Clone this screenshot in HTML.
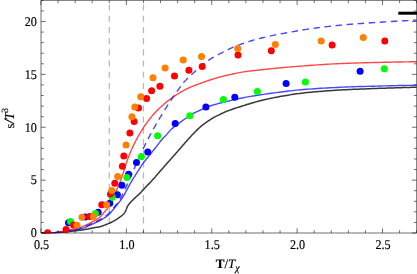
<!DOCTYPE html><html><head><meta charset="utf-8"><style>html,body{margin:0;padding:0;background:#fff;width:417px;height:274px;overflow:hidden}</style></head><body><svg width="417" height="274" viewBox="0 0 417 274" style="position:absolute;left:0;top:0">
<defs><clipPath id="c"><rect x="41" y="0" width="376" height="233.5"/></clipPath></defs>
<rect width="417" height="274" fill="#fff"/>
<line x1="109.30" y1="4.5" x2="109.30" y2="233" stroke="#b8b8b8" stroke-width="1.25" stroke-dasharray="6.1 5.1"/>
<line x1="143.45" y1="4.5" x2="143.45" y2="233" stroke="#b8b8b8" stroke-width="1.25" stroke-dasharray="6.1 5.1"/>
<g clip-path="url(#c)" fill="none" stroke-linejoin="round">
<path d="M41.00 232.90 L42.32 232.88 L43.66 232.86 L45.01 232.85 L46.36 232.83 L47.71 232.82 L49.06 232.81 L50.40 232.79 L51.73 232.77 L53.03 232.74 L54.32 232.70 L55.57 232.66 L56.80 232.60 L57.99 232.53 L59.16 232.46 L60.30 232.37 L61.42 232.28 L62.52 232.18 L63.61 232.07 L64.69 231.97 L65.76 231.86 L66.82 231.74 L67.88 231.63 L68.94 231.51 L70.00 231.40 L71.06 231.29 L72.11 231.18 L73.16 231.06 L74.19 230.95 L75.22 230.84 L76.25 230.72 L77.27 230.60 L78.30 230.47 L79.32 230.34 L80.34 230.20 L81.37 230.05 L82.40 229.90 L83.46 229.73 L84.55 229.55 L85.67 229.35 L86.80 229.14 L87.93 228.93 L89.05 228.71 L90.14 228.50 L91.20 228.29 L92.21 228.10 L93.15 227.91 L94.02 227.75 L94.80 227.60 L95.48 227.48 L96.07 227.38 L96.58 227.31 L97.03 227.24 L97.43 227.19 L97.79 227.14 L98.13 227.10 L98.46 227.04 L98.80 226.98 L99.16 226.91 L99.55 226.82 L100.00 226.70 L100.48 226.56 L100.97 226.42 L101.48 226.26 L101.99 226.09 L102.51 225.91 L103.03 225.72 L103.56 225.53 L104.09 225.33 L104.62 225.12 L105.15 224.92 L105.68 224.71 L106.20 224.50 L106.72 224.29 L107.25 224.08 L107.77 223.87 L108.30 223.65 L108.82 223.43 L109.35 223.20 L109.88 222.97 L110.40 222.73 L110.93 222.48 L111.45 222.23 L111.98 221.97 L112.50 221.70 L113.02 221.42 L113.55 221.13 L114.09 220.82 L114.62 220.51 L115.15 220.20 L115.68 219.87 L116.21 219.55 L116.73 219.22 L117.24 218.89 L117.74 218.56 L118.23 218.23 L118.70 217.90 L119.17 217.57 L119.64 217.24 L120.10 216.91 L120.56 216.57 L121.01 216.23 L121.45 215.89 L121.88 215.56 L122.29 215.22 L122.67 214.88 L123.04 214.55 L123.39 214.22 L123.70 213.90 L123.98 213.58 L124.24 213.27 L124.46 212.95 L124.67 212.64 L124.85 212.34 L125.02 212.03 L125.17 211.73 L125.32 211.42 L125.46 211.12 L125.61 210.81 L125.75 210.51 L125.90 210.20 L126.05 209.89 L126.18 209.58 L126.30 209.27 L126.41 208.96 L126.52 208.65 L126.63 208.34 L126.74 208.03 L126.85 207.72 L126.97 207.41 L127.10 207.11 L127.24 206.80 L127.40 206.50 L127.57 206.21 L127.73 205.92 L127.90 205.65 L128.07 205.37 L128.24 205.10 L128.43 204.83 L128.63 204.55 L128.84 204.27 L129.08 203.98 L129.33 203.67 L129.60 203.34 L129.90 203.00 L130.23 202.63 L130.59 202.25 L130.97 201.85 L131.38 201.43 L131.81 201.00 L132.24 200.57 L132.69 200.13 L133.14 199.69 L133.59 199.26 L134.04 198.83 L134.48 198.41 L134.90 198.00 L135.32 197.60 L135.75 197.20 L136.19 196.80 L136.62 196.41 L137.06 196.01 L137.49 195.62 L137.92 195.24 L138.34 194.86 L138.76 194.48 L139.15 194.12 L139.54 193.75 L139.90 193.40 L140.22 193.08 L140.49 192.80 L140.73 192.55 L140.94 192.33 L141.14 192.10 L141.34 191.88 L141.56 191.62 L141.81 191.34 L142.10 191.01 L142.46 190.62 L142.89 190.15 L143.40 189.60 L144.01 188.95 L144.72 188.20 L145.50 187.38 L146.34 186.50 L147.23 185.57 L148.15 184.61 L149.08 183.63 L150.01 182.64 L150.92 181.68 L151.80 180.74 L152.63 179.84 L153.40 179.00 L154.12 178.20 L154.82 177.41 L155.51 176.62 L156.17 175.85 L156.82 175.09 L157.46 174.35 L158.07 173.62 L158.67 172.91 L159.25 172.23 L159.82 171.56 L160.37 170.92 L160.90 170.30 L161.41 169.71 L161.89 169.16 L162.35 168.64 L162.79 168.14 L163.21 167.66 L163.61 167.20 L164.01 166.75 L164.40 166.30 L164.80 165.86 L165.19 165.42 L165.59 164.96 L166.00 164.50 L166.40 164.05 L166.78 163.62 L167.15 163.21 L167.50 162.81 L167.86 162.41 L168.22 162.01 L168.59 161.60 L168.99 161.16 L169.41 160.68 L169.86 160.17 L170.36 159.61 L170.90 159.00 L171.50 158.32 L172.16 157.58 L172.86 156.78 L173.60 155.94 L174.36 155.08 L175.14 154.19 L175.94 153.29 L176.73 152.39 L177.51 151.50 L178.27 150.63 L179.00 149.80 L179.70 149.00 L180.37 148.24 L181.01 147.49 L181.64 146.76 L182.26 146.04 L182.87 145.34 L183.47 144.64 L184.07 143.94 L184.67 143.26 L185.27 142.57 L185.87 141.88 L186.48 141.19 L187.10 140.50 L187.73 139.80 L188.37 139.09 L189.02 138.38 L189.67 137.66 L190.32 136.95 L190.97 136.24 L191.62 135.54 L192.26 134.85 L192.89 134.18 L193.51 133.53 L194.12 132.90 L194.70 132.30 L195.27 131.72 L195.81 131.17 L196.35 130.64 L196.87 130.12 L197.38 129.62 L197.88 129.13 L198.38 128.66 L198.88 128.19 L199.38 127.74 L199.88 127.29 L200.38 126.84 L200.90 126.40 L201.42 125.96 L201.95 125.54 L202.47 125.12 L203.00 124.72 L203.52 124.32 L204.05 123.93 L204.58 123.55 L205.10 123.17 L205.63 122.80 L206.15 122.43 L206.68 122.06 L207.20 121.70 L207.72 121.34 L208.24 120.98 L208.76 120.63 L209.27 120.28 L209.79 119.94 L210.31 119.60 L210.82 119.27 L211.34 118.94 L211.85 118.62 L212.37 118.31 L212.88 118.00 L213.40 117.70 L213.91 117.41 L214.41 117.14 L214.91 116.88 L215.40 116.62 L215.89 116.37 L216.38 116.13 L216.88 115.89 L217.39 115.64 L217.92 115.40 L218.46 115.14 L219.02 114.88 L219.60 114.60 L220.18 114.32 L220.75 114.04 L221.31 113.75 L221.87 113.47 L222.45 113.18 L223.04 112.89 L223.68 112.59 L224.35 112.27 L225.08 111.95 L225.88 111.62 L226.75 111.27 L227.70 110.90 L228.75 110.51 L229.89 110.10 L231.11 109.68 L232.39 109.24 L233.73 108.78 L235.11 108.33 L236.52 107.86 L237.94 107.40 L239.38 106.93 L240.81 106.48 L242.22 106.03 L243.60 105.60 L244.96 105.18 L246.32 104.75 L247.68 104.33 L249.04 103.91 L250.41 103.49 L251.79 103.07 L253.18 102.66 L254.58 102.26 L256.00 101.86 L257.44 101.47 L258.91 101.08 L260.40 100.70 L261.92 100.33 L263.46 99.96 L265.03 99.60 L266.61 99.24 L268.21 98.89 L269.83 98.54 L271.46 98.20 L273.10 97.87 L274.75 97.54 L276.40 97.22 L278.05 96.91 L279.70 96.60 L281.36 96.30 L283.03 96.00 L284.71 95.71 L286.40 95.42 L288.10 95.14 L289.81 94.87 L291.51 94.60 L293.22 94.34 L294.92 94.09 L296.62 93.85 L298.32 93.62 L300.00 93.40 L301.68 93.19 L303.35 92.99 L305.02 92.80 L306.69 92.62 L308.35 92.45 L310.02 92.29 L311.68 92.13 L313.34 91.98 L315.01 91.83 L316.67 91.68 L318.33 91.54 L320.00 91.40 L321.67 91.26 L323.33 91.13 L325.00 91.00 L326.67 90.87 L328.33 90.75 L330.00 90.63 L331.67 90.52 L333.33 90.41 L335.00 90.30 L336.67 90.20 L338.33 90.10 L340.00 90.00 L341.66 89.91 L343.33 89.82 L344.99 89.74 L346.64 89.66 L348.30 89.58 L349.96 89.51 L351.62 89.44 L353.29 89.37 L354.96 89.31 L356.63 89.24 L358.31 89.17 L360.00 89.10 L361.70 89.03 L363.41 88.96 L365.14 88.89 L366.87 88.82 L368.60 88.75 L370.34 88.68 L372.07 88.61 L373.80 88.55 L375.52 88.48 L377.23 88.42 L378.92 88.36 L380.60 88.30 L382.27 88.24 L383.93 88.19 L385.60 88.13 L387.26 88.08 L388.91 88.03 L390.54 87.98 L392.17 87.93 L393.78 87.89 L395.37 87.84 L396.94 87.79 L398.48 87.75 L400.00 87.70 L401.49 87.65 L402.94 87.61 L404.36 87.57 L405.77 87.53 L407.15 87.48 L408.52 87.44 L409.88 87.40 L411.23 87.36 L412.59 87.32 L413.95 87.28 L415.32 87.24 L416.70 87.20" stroke="#1c1c1c" stroke-width="1.5" stroke-opacity="0.88"/>
<path d="M41.00 232.90 L42.25 232.87 L43.51 232.85 L44.77 232.84 L46.04 232.82 L47.30 232.81 L48.56 232.79 L49.82 232.77 L51.07 232.74 L52.32 232.71 L53.56 232.65 L54.79 232.59 L56.00 232.50 L57.21 232.40 L58.41 232.27 L59.61 232.14 L60.80 231.99 L61.99 231.83 L63.16 231.67 L64.33 231.50 L65.49 231.32 L66.64 231.14 L67.77 230.96 L68.89 230.78 L70.00 230.60 L71.09 230.43 L72.16 230.27 L73.21 230.12 L74.25 229.97 L75.28 229.82 L76.30 229.66 L77.31 229.49 L78.33 229.30 L79.34 229.10 L80.35 228.86 L81.37 228.60 L82.40 228.30 L83.46 227.95 L84.55 227.56 L85.67 227.12 L86.80 226.65 L87.93 226.16 L89.05 225.66 L90.14 225.15 L91.20 224.66 L92.21 224.19 L93.15 223.75 L94.02 223.35 L94.80 223.00 L95.49 222.70 L96.09 222.44 L96.62 222.21 L97.09 222.00 L97.51 221.81 L97.89 221.64 L98.25 221.48 L98.59 221.32 L98.92 221.16 L99.26 220.99 L99.61 220.80 L100.00 220.60 L100.40 220.38 L100.80 220.16 L101.19 219.93 L101.57 219.70 L101.95 219.47 L102.33 219.24 L102.70 219.00 L103.06 218.76 L103.43 218.52 L103.79 218.28 L104.14 218.04 L104.50 217.80 L104.85 217.56 L105.19 217.33 L105.52 217.11 L105.85 216.89 L106.18 216.67 L106.50 216.44 L106.82 216.20 L107.15 215.96 L107.48 215.70 L107.81 215.42 L108.15 215.12 L108.50 214.80 L108.86 214.45 L109.22 214.08 L109.60 213.70 L109.97 213.29 L110.35 212.87 L110.74 212.44 L111.12 212.00 L111.50 211.56 L111.88 211.11 L112.26 210.67 L112.63 210.23 L113.00 209.80 L113.36 209.37 L113.73 208.93 L114.09 208.49 L114.46 208.04 L114.82 207.59 L115.18 207.14 L115.53 206.70 L115.88 206.26 L116.22 205.83 L116.56 205.41 L116.88 205.00 L117.20 204.60 L117.51 204.22 L117.81 203.85 L118.10 203.50 L118.39 203.15 L118.67 202.81 L118.94 202.47 L119.21 202.15 L119.48 201.82 L119.74 201.49 L120.00 201.16 L120.25 200.83 L120.50 200.50 L120.75 200.16 L120.99 199.83 L121.22 199.50 L121.46 199.17 L121.68 198.84 L121.91 198.51 L122.13 198.18 L122.34 197.84 L122.56 197.51 L122.77 197.18 L122.99 196.84 L123.20 196.50 L123.41 196.17 L123.60 195.85 L123.79 195.54 L123.97 195.24 L124.15 194.93 L124.32 194.62 L124.51 194.29 L124.70 193.95 L124.90 193.59 L125.12 193.19 L125.35 192.77 L125.60 192.30 L125.87 191.79 L126.15 191.25 L126.44 190.68 L126.74 190.08 L127.05 189.46 L127.37 188.82 L127.71 188.16 L128.05 187.50 L128.40 186.82 L128.76 186.15 L129.12 185.47 L129.50 184.80 L129.89 184.13 L130.29 183.44 L130.71 182.74 L131.14 182.03 L131.57 181.32 L132.02 180.60 L132.46 179.88 L132.91 179.16 L133.37 178.43 L133.82 177.72 L134.26 177.00 L134.70 176.30 L135.14 175.59 L135.60 174.86 L136.07 174.12 L136.54 173.37 L137.01 172.62 L137.47 171.89 L137.93 171.16 L138.38 170.46 L138.81 169.79 L139.21 169.15 L139.60 168.55 L139.95 168.00 L140.27 167.50 L140.56 167.05 L140.82 166.64 L141.06 166.26 L141.29 165.91 L141.50 165.59 L141.71 165.27 L141.91 164.97 L142.12 164.67 L142.33 164.36 L142.56 164.04 L142.80 163.70 L143.03 163.38 L143.23 163.10 L143.42 162.86 L143.59 162.63 L143.76 162.40 L143.95 162.16 L144.17 161.89 L144.42 161.58 L144.71 161.21 L145.07 160.77 L145.49 160.24 L146.00 159.60 L146.61 158.84 L147.33 157.94 L148.13 156.94 L149.00 155.86 L149.91 154.71 L150.86 153.54 L151.81 152.35 L152.75 151.18 L153.66 150.04 L154.52 148.97 L155.30 147.98 L156.00 147.10 L156.62 146.31 L157.18 145.58 L157.70 144.91 L158.18 144.27 L158.63 143.67 L159.06 143.11 L159.46 142.56 L159.86 142.04 L160.26 141.53 L160.66 141.02 L161.07 140.51 L161.50 140.00 L161.94 139.49 L162.37 139.01 L162.80 138.54 L163.22 138.10 L163.64 137.66 L164.06 137.23 L164.47 136.81 L164.89 136.38 L165.31 135.95 L165.74 135.52 L166.17 135.07 L166.60 134.60 L167.03 134.12 L167.45 133.64 L167.87 133.15 L168.28 132.65 L168.69 132.15 L169.11 131.65 L169.54 131.14 L169.99 130.64 L170.45 130.13 L170.94 129.62 L171.45 129.11 L172.00 128.60 L172.57 128.10 L173.15 127.60 L173.75 127.11 L174.37 126.62 L175.00 126.13 L175.66 125.63 L176.33 125.13 L177.03 124.61 L177.76 124.09 L178.51 123.55 L179.29 122.98 L180.10 122.40 L180.96 121.78 L181.88 121.11 L182.84 120.42 L183.85 119.70 L184.88 118.96 L185.92 118.22 L186.96 117.49 L188.00 116.78 L189.01 116.10 L189.99 115.45 L190.92 114.84 L191.80 114.30 L192.62 113.81 L193.40 113.37 L194.14 112.97 L194.86 112.61 L195.55 112.27 L196.23 111.95 L196.90 111.65 L197.57 111.35 L198.25 111.05 L198.94 110.75 L199.66 110.43 L200.40 110.10 L201.14 109.76 L201.86 109.42 L202.56 109.08 L203.26 108.74 L203.96 108.41 L204.69 108.07 L205.44 107.74 L206.23 107.40 L207.07 107.06 L207.97 106.71 L208.94 106.36 L210.00 106.00 L211.15 105.63 L212.38 105.25 L213.69 104.86 L215.07 104.47 L216.49 104.07 L217.95 103.67 L219.44 103.28 L220.93 102.89 L222.43 102.50 L223.92 102.12 L225.38 101.75 L226.80 101.40 L228.20 101.06 L229.60 100.72 L231.00 100.39 L232.40 100.07 L233.80 99.75 L235.20 99.44 L236.60 99.14 L238.00 98.84 L239.40 98.55 L240.80 98.26 L242.20 97.98 L243.60 97.70 L244.99 97.43 L246.37 97.17 L247.74 96.91 L249.11 96.66 L250.47 96.42 L251.84 96.18 L253.22 95.95 L254.61 95.71 L256.02 95.49 L257.46 95.26 L258.91 95.03 L260.40 94.80 L261.91 94.57 L263.42 94.35 L264.94 94.13 L266.48 93.91 L268.03 93.70 L269.61 93.49 L271.21 93.28 L272.83 93.06 L274.49 92.85 L276.19 92.64 L277.92 92.42 L279.70 92.20 L281.49 91.98 L283.28 91.75 L285.07 91.52 L286.87 91.29 L288.71 91.06 L290.60 90.83 L292.54 90.59 L294.56 90.37 L296.66 90.14 L298.86 89.92 L301.17 89.71 L303.60 89.50 L306.17 89.30 L308.86 89.09 L311.67 88.89 L314.57 88.70 L317.56 88.50 L320.62 88.31 L323.74 88.13 L326.90 87.95 L330.09 87.77 L333.30 87.61 L336.51 87.45 L339.70 87.30 L342.92 87.16 L346.22 87.03 L349.56 86.90 L352.96 86.78 L356.38 86.67 L359.81 86.56 L363.25 86.46 L366.68 86.36 L370.08 86.27 L373.44 86.18 L376.75 86.09 L380.00 86.00 L383.18 85.92 L386.32 85.84 L389.43 85.76 L392.50 85.70 L395.55 85.63 L398.58 85.57 L401.59 85.51 L404.60 85.45 L407.61 85.39 L410.62 85.33 L413.65 85.27 L416.70 85.20" stroke="#0000ff" stroke-width="1.4" stroke-opacity="0.72"/>
<path d="M41.00 232.90 L42.25 232.87 L43.51 232.86 L44.77 232.85 L46.04 232.85 L47.30 232.84 L48.56 232.84 L49.82 232.82 L51.07 232.80 L52.32 232.75 L53.56 232.69 L54.79 232.61 L56.00 232.50 L57.21 232.36 L58.41 232.20 L59.61 232.02 L60.80 231.82 L61.99 231.61 L63.16 231.38 L64.33 231.14 L65.49 230.90 L66.64 230.65 L67.77 230.40 L68.89 230.15 L70.00 229.90 L71.09 229.66 L72.16 229.42 L73.21 229.19 L74.25 228.95 L75.28 228.71 L76.30 228.46 L77.31 228.20 L78.33 227.93 L79.34 227.63 L80.35 227.31 L81.37 226.97 L82.40 226.60 L83.46 226.19 L84.55 225.73 L85.67 225.23 L86.80 224.71 L87.93 224.17 L89.05 223.62 L90.14 223.07 L91.20 222.52 L92.21 221.99 L93.15 221.49 L94.02 221.02 L94.80 220.60 L95.49 220.22 L96.09 219.89 L96.61 219.58 L97.07 219.30 L97.49 219.04 L97.86 218.78 L98.21 218.53 L98.55 218.27 L98.88 217.99 L99.23 217.69 L99.60 217.37 L100.00 217.00 L100.43 216.59 L100.86 216.16 L101.29 215.69 L101.73 215.21 L102.16 214.71 L102.59 214.21 L103.02 213.70 L103.44 213.19 L103.85 212.69 L104.24 212.20 L104.63 211.74 L105.00 211.30 L105.35 210.89 L105.69 210.51 L106.01 210.16 L106.33 209.81 L106.63 209.48 L106.93 209.15 L107.22 208.81 L107.51 208.46 L107.80 208.09 L108.09 207.70 L108.39 207.27 L108.70 206.80 L109.01 206.29 L109.33 205.75 L109.65 205.19 L109.97 204.60 L110.29 203.99 L110.61 203.37 L110.93 202.73 L111.25 202.09 L111.57 201.44 L111.88 200.79 L112.19 200.14 L112.50 199.50 L112.80 198.85 L113.11 198.20 L113.41 197.53 L113.71 196.85 L114.00 196.17 L114.30 195.48 L114.59 194.80 L114.88 194.12 L115.17 193.45 L115.45 192.78 L115.73 192.13 L116.00 191.50 L116.27 190.88 L116.53 190.28 L116.79 189.68 L117.05 189.09 L117.30 188.51 L117.55 187.94 L117.80 187.37 L118.04 186.80 L118.28 186.23 L118.52 185.66 L118.76 185.08 L119.00 184.50 L119.23 183.92 L119.46 183.36 L119.69 182.80 L119.91 182.25 L120.13 181.70 L120.35 181.14 L120.57 180.58 L120.79 180.00 L121.01 179.41 L121.24 178.80 L121.47 178.16 L121.70 177.50 L121.94 176.80 L122.19 176.06 L122.45 175.28 L122.71 174.48 L122.97 173.67 L123.23 172.84 L123.49 172.02 L123.75 171.21 L124.00 170.41 L124.24 169.64 L124.48 168.90 L124.70 168.20 L124.91 167.54 L125.10 166.93 L125.29 166.33 L125.46 165.77 L125.63 165.22 L125.79 164.67 L125.96 164.14 L126.13 163.60 L126.31 163.05 L126.49 162.49 L126.69 161.91 L126.90 161.30 L127.13 160.67 L127.36 160.02 L127.60 159.36 L127.85 158.69 L128.10 158.01 L128.36 157.32 L128.63 156.63 L128.90 155.94 L129.17 155.25 L129.44 154.56 L129.72 153.88 L130.00 153.20 L130.28 152.53 L130.57 151.85 L130.87 151.16 L131.17 150.48 L131.47 149.79 L131.78 149.11 L132.09 148.44 L132.40 147.77 L132.70 147.11 L133.01 146.46 L133.31 145.82 L133.60 145.20 L133.89 144.60 L134.17 144.01 L134.45 143.44 L134.73 142.88 L135.00 142.33 L135.27 141.78 L135.55 141.24 L135.83 140.70 L136.11 140.16 L136.40 139.61 L136.70 139.06 L137.00 138.50 L137.31 137.93 L137.63 137.36 L137.95 136.78 L138.28 136.20 L138.61 135.62 L138.95 135.04 L139.29 134.46 L139.63 133.89 L139.97 133.31 L140.31 132.73 L140.66 132.17 L141.00 131.60 L141.33 131.05 L141.64 130.53 L141.94 130.03 L142.23 129.53 L142.52 129.04 L142.83 128.54 L143.14 128.03 L143.48 127.50 L143.85 126.94 L144.25 126.34 L144.70 125.70 L145.20 125.00 L145.75 124.24 L146.36 123.41 L147.00 122.54 L147.69 121.62 L148.40 120.67 L149.14 119.71 L149.89 118.74 L150.64 117.77 L151.40 116.82 L152.15 115.90 L152.89 115.03 L153.60 114.20 L154.30 113.42 L155.00 112.66 L155.70 111.92 L156.40 111.20 L157.10 110.49 L157.80 109.81 L158.50 109.13 L159.20 108.47 L159.90 107.82 L160.60 107.17 L161.30 106.53 L162.00 105.90 L162.70 105.27 L163.40 104.66 L164.10 104.05 L164.80 103.45 L165.50 102.86 L166.20 102.29 L166.90 101.72 L167.60 101.16 L168.30 100.61 L169.00 100.06 L169.70 99.53 L170.40 99.00 L171.09 98.48 L171.77 97.98 L172.44 97.49 L173.11 97.01 L173.77 96.54 L174.44 96.08 L175.12 95.62 L175.81 95.16 L176.52 94.70 L177.26 94.24 L178.01 93.77 L178.80 93.30 L179.59 92.83 L180.36 92.36 L181.13 91.90 L181.90 91.44 L182.69 90.98 L183.51 90.51 L184.37 90.04 L185.28 89.56 L186.26 89.07 L187.31 88.57 L188.45 88.04 L189.70 87.50 L191.07 86.93 L192.58 86.32 L194.20 85.68 L195.90 85.02 L197.67 84.35 L199.48 83.68 L201.31 83.01 L203.14 82.36 L204.95 81.72 L206.71 81.11 L208.40 80.53 L210.00 80.00 L211.52 79.51 L213.00 79.04 L214.45 78.60 L215.86 78.18 L217.25 77.78 L218.62 77.39 L219.98 77.02 L221.33 76.67 L222.68 76.32 L224.04 75.98 L225.41 75.64 L226.80 75.30 L228.20 74.97 L229.60 74.64 L231.00 74.33 L232.40 74.02 L233.80 73.72 L235.20 73.43 L236.60 73.15 L238.00 72.88 L239.40 72.62 L240.80 72.37 L242.20 72.13 L243.60 71.90 L244.99 71.68 L246.37 71.49 L247.74 71.30 L249.11 71.13 L250.47 70.97 L251.84 70.81 L253.22 70.66 L254.61 70.51 L256.02 70.37 L257.46 70.22 L258.91 70.06 L260.40 69.90 L261.91 69.73 L263.42 69.57 L264.94 69.40 L266.48 69.23 L268.03 69.07 L269.61 68.90 L271.21 68.73 L272.83 68.57 L274.49 68.40 L276.19 68.23 L277.92 68.07 L279.70 67.90 L281.49 67.73 L283.28 67.57 L285.07 67.41 L286.87 67.24 L288.71 67.08 L290.60 66.92 L292.54 66.75 L294.56 66.59 L296.66 66.42 L298.86 66.25 L301.17 66.08 L303.60 65.90 L306.17 65.72 L308.86 65.52 L311.67 65.32 L314.57 65.11 L317.56 64.91 L320.62 64.70 L323.74 64.50 L326.90 64.30 L330.09 64.10 L333.30 63.92 L336.51 63.75 L339.70 63.60 L342.92 63.46 L346.22 63.33 L349.56 63.21 L352.96 63.10 L356.38 63.00 L359.81 62.90 L363.25 62.81 L366.68 62.72 L370.08 62.64 L373.44 62.56 L376.75 62.48 L380.00 62.40 L383.18 62.32 L386.32 62.25 L389.43 62.19 L392.50 62.13 L395.55 62.07 L398.58 62.02 L401.59 61.97 L404.60 61.91 L407.61 61.86 L410.62 61.81 L413.65 61.76 L416.70 61.70" stroke="#ff0000" stroke-width="1.4" stroke-opacity="0.72"/>
<path d="M41.00 232.90 L42.25 232.87 L43.51 232.85 L44.77 232.84 L46.04 232.83 L47.30 232.82 L48.56 232.81 L49.82 232.79 L51.07 232.77 L52.32 232.73 L53.56 232.67 L54.79 232.60 L56.00 232.50 L57.21 232.38 L58.41 232.24 L59.61 232.09 L60.80 231.92 L61.99 231.74 L63.16 231.54 L64.33 231.34 L65.49 231.14 L66.64 230.93 L67.77 230.72 L68.89 230.51 L70.00 230.30 L71.09 230.10 L72.16 229.91 L73.21 229.72 L74.25 229.54 L75.28 229.35 L76.30 229.15 L77.31 228.94 L78.33 228.72 L79.34 228.48 L80.35 228.21 L81.37 227.92 L82.40 227.60 L83.46 227.24 L84.55 226.82 L85.67 226.38 L86.80 225.90 L87.93 225.40 L89.05 224.90 L90.14 224.40 L91.20 223.90 L92.21 223.42 L93.15 222.97 L94.02 222.56 L94.80 222.20 L95.49 221.88 L96.10 221.59 L96.63 221.34 L97.11 221.10 L97.54 220.88 L97.92 220.68 L98.28 220.49 L98.62 220.30 L98.95 220.11 L99.29 219.92 L99.63 219.72 L100.00 219.50 L100.38 219.27 L100.74 219.05 L101.08 218.82 L101.42 218.60 L101.75 218.37 L102.08 218.14 L102.39 217.92 L102.71 217.69 L103.03 217.47 L103.35 217.24 L103.67 217.02 L104.00 216.80 L104.33 216.59 L104.66 216.39 L104.99 216.19 L105.32 216.01 L105.65 215.82 L105.98 215.63 L106.31 215.43 L106.64 215.23 L106.98 215.00 L107.32 214.76 L107.66 214.49 L108.00 214.20 L108.35 213.88 L108.70 213.53 L109.06 213.16 L109.42 212.77 L109.79 212.36 L110.15 211.94 L110.51 211.52 L110.88 211.09 L111.24 210.66 L111.60 210.23 L111.95 209.81 L112.30 209.40 L112.65 208.99 L112.99 208.58 L113.34 208.16 L113.69 207.74 L114.03 207.32 L114.37 206.90 L114.71 206.48 L115.04 206.07 L115.36 205.66 L115.68 205.27 L116.00 204.88 L116.30 204.50 L116.58 204.17 L116.83 203.92 L117.05 203.72 L117.26 203.55 L117.46 203.38 L117.66 203.20 L117.88 202.98 L118.12 202.70 L118.40 202.33 L118.71 201.86 L119.07 201.25 L119.50 200.50 L119.99 199.58 L120.54 198.52 L121.14 197.33 L121.78 196.04 L122.45 194.66 L123.15 193.23 L123.86 191.74 L124.57 190.24 L125.28 188.73 L125.98 187.24 L126.66 185.79 L127.30 184.40 L127.92 183.05 L128.52 181.71 L129.11 180.38 L129.70 179.04 L130.28 177.70 L130.86 176.36 L131.45 175.01 L132.03 173.65 L132.63 172.27 L133.24 170.87 L133.86 169.45 L134.50 168.00 L135.16 166.51 L135.84 164.98 L136.53 163.42 L137.23 161.83 L137.94 160.22 L138.65 158.61 L139.37 157.00 L140.09 155.40 L140.80 153.82 L141.51 152.27 L142.21 150.76 L142.90 149.30 L143.58 147.88 L144.26 146.49 L144.93 145.13 L145.59 143.79 L146.26 142.47 L146.92 141.18 L147.58 139.89 L148.24 138.62 L148.90 137.36 L149.57 136.10 L150.23 134.85 L150.90 133.60 L151.57 132.36 L152.24 131.13 L152.91 129.91 L153.58 128.70 L154.25 127.51 L154.93 126.32 L155.60 125.14 L156.27 123.96 L156.95 122.79 L157.63 121.63 L158.31 120.46 L159.00 119.30 L159.69 118.13 L160.40 116.96 L161.11 115.78 L161.83 114.60 L162.55 113.42 L163.27 112.26 L163.99 111.10 L164.70 109.97 L165.40 108.86 L166.08 107.77 L166.75 106.72 L167.40 105.70 L168.03 104.71 L168.65 103.76 L169.25 102.83 L169.85 101.92 L170.43 101.03 L171.01 100.17 L171.57 99.32 L172.13 98.49 L172.68 97.68 L173.23 96.87 L173.76 96.08 L174.30 95.30 L174.83 94.52 L175.36 93.76 L175.89 93.00 L176.41 92.26 L176.93 91.53 L177.44 90.81 L177.93 90.12 L178.42 89.44 L178.89 88.79 L179.34 88.17 L179.78 87.57 L180.20 87.00 L180.57 86.48 L180.89 86.03 L181.16 85.64 L181.41 85.28 L181.64 84.94 L181.87 84.61 L182.12 84.28 L182.39 83.92 L182.71 83.53 L183.10 83.09 L183.55 82.58 L184.10 82.00 L184.73 81.34 L185.41 80.63 L186.15 79.87 L186.94 79.07 L187.78 78.24 L188.65 77.38 L189.56 76.49 L190.50 75.58 L191.47 74.66 L192.47 73.74 L193.48 72.82 L194.50 71.90 L195.57 70.96 L196.71 69.96 L197.91 68.92 L199.14 67.86 L200.41 66.79 L201.69 65.72 L202.96 64.66 L204.22 63.64 L205.45 62.65 L206.63 61.73 L207.75 60.87 L208.80 60.10 L209.76 59.42 L210.65 58.82 L211.49 58.29 L212.27 57.81 L213.03 57.38 L213.77 56.98 L214.50 56.60 L215.25 56.22 L216.02 55.83 L216.82 55.43 L217.68 54.99 L218.60 54.50 L219.60 53.97 L220.69 53.40 L221.83 52.80 L223.02 52.19 L224.23 51.57 L225.44 50.95 L226.65 50.34 L227.81 49.76 L228.93 49.20 L229.98 48.68 L230.94 48.21 L231.80 47.80 L232.53 47.45 L233.15 47.17 L233.67 46.93 L234.12 46.73 L234.52 46.57 L234.89 46.42 L235.26 46.28 L235.63 46.14 L236.04 46.00 L236.51 45.83 L237.06 45.64 L237.70 45.40 L238.43 45.13 L239.22 44.84 L240.05 44.54 L240.93 44.22 L241.84 43.89 L242.78 43.56 L243.74 43.22 L244.71 42.88 L245.69 42.55 L246.67 42.22 L247.64 41.90 L248.60 41.60 L249.54 41.31 L250.48 41.02 L251.41 40.74 L252.34 40.47 L253.29 40.19 L254.24 39.92 L255.20 39.66 L256.19 39.39 L257.20 39.12 L258.23 38.85 L259.30 38.58 L260.40 38.30 L261.55 38.02 L262.77 37.72 L264.03 37.43 L265.33 37.13 L266.65 36.82 L267.98 36.52 L269.31 36.23 L270.63 35.94 L271.91 35.66 L273.17 35.39 L274.36 35.14 L275.50 34.90 L276.56 34.68 L277.54 34.49 L278.46 34.30 L279.34 34.14 L280.20 33.98 L281.04 33.82 L281.89 33.67 L282.77 33.52 L283.68 33.36 L284.64 33.19 L285.68 33.00 L286.80 32.80 L288.01 32.58 L289.28 32.35 L290.61 32.10 L291.99 31.84 L293.41 31.58 L294.86 31.32 L296.32 31.05 L297.80 30.79 L299.27 30.53 L300.74 30.28 L302.18 30.03 L303.60 29.80 L304.99 29.58 L306.37 29.36 L307.74 29.15 L309.11 28.95 L310.47 28.75 L311.84 28.55 L313.22 28.36 L314.61 28.16 L316.02 27.97 L317.46 27.78 L318.91 27.59 L320.40 27.40 L321.96 27.20 L323.61 27.00 L325.33 26.80 L327.09 26.60 L328.87 26.39 L330.64 26.19 L332.38 26.00 L334.06 25.81 L335.66 25.64 L337.15 25.48 L338.50 25.33 L339.70 25.20 L340.65 25.09 L341.31 25.02 L341.77 24.96 L342.07 24.91 L342.29 24.88 L342.49 24.86 L342.74 24.83 L343.11 24.80 L343.65 24.75 L344.43 24.69 L345.53 24.61 L347.00 24.50 L348.84 24.36 L350.97 24.21 L353.36 24.03 L355.96 23.84 L358.74 23.64 L361.66 23.44 L364.69 23.23 L367.77 23.01 L370.89 22.80 L373.99 22.59 L377.04 22.39 L380.00 22.20 L382.93 22.02 L385.90 21.84 L388.91 21.66 L391.96 21.49 L395.03 21.31 L398.12 21.14 L401.22 20.96 L404.33 20.79 L407.44 20.62 L410.54 20.45 L413.63 20.27 L416.70 20.10" stroke="#0000ff" stroke-width="1.4" stroke-opacity="0.72" stroke-dasharray="6.5 4.6" stroke-dashoffset="9.85"/>
</g>
<g clip-path="url(#c)" fill="#0000ff"><circle cx="68.5" cy="222.7" r="3.5"/><circle cx="85.3" cy="216.9" r="3.5"/><circle cx="98.2" cy="212.3" r="3.5"/><circle cx="109.8" cy="203.3" r="3.5"/><circle cx="117.4" cy="194.7" r="3.5"/><circle cx="121.9" cy="185.2" r="3.5"/><circle cx="128.6" cy="174.3" r="3.5"/><circle cx="136.5" cy="162.5" r="3.5"/><circle cx="147.7" cy="151.9" r="3.5"/><circle cx="175.2" cy="123.6" r="3.5"/><circle cx="205.9" cy="107.1" r="3.5"/><circle cx="234.8" cy="97.3" r="3.5"/><circle cx="286.1" cy="83.6" r="3.5"/><circle cx="360.1" cy="71.3" r="3.5"/></g>
<g clip-path="url(#c)" fill="#00ff00"><circle cx="70.5" cy="221.4" r="3.5"/><circle cx="95.4" cy="213.5" r="3.5"/><circle cx="112.3" cy="197.3" r="3.5"/><circle cx="126.9" cy="177.6" r="3.5"/><circle cx="141.4" cy="156.7" r="3.5"/><circle cx="157.6" cy="135.8" r="3.5"/><circle cx="189.8" cy="115.7" r="3.5"/><circle cx="223.4" cy="99.4" r="3.5"/><circle cx="257.3" cy="91.4" r="3.5"/><circle cx="305.4" cy="81.9" r="3.5"/><circle cx="384.3" cy="68.8" r="3.5"/></g>
<g clip-path="url(#c)" fill="#ff0000"><circle cx="47.6" cy="232.8" r="3.5"/><circle cx="66.0" cy="229.6" r="3.5"/><circle cx="73.6" cy="224.9" r="3.5"/><circle cx="89.5" cy="216.4" r="3.5"/><circle cx="101.8" cy="204.8" r="3.5"/><circle cx="110.5" cy="194.1" r="3.5"/><circle cx="114.8" cy="183.2" r="3.5"/><circle cx="122.4" cy="166.2" r="3.5"/><circle cx="123.8" cy="156.0" r="3.5"/><circle cx="129.9" cy="133.1" r="3.5"/><circle cx="134.1" cy="121.4" r="3.5"/><circle cx="138.5" cy="108.1" r="3.5"/><circle cx="146.6" cy="98.5" r="3.5"/><circle cx="151.6" cy="90.8" r="3.5"/><circle cx="159.9" cy="86.2" r="3.5"/><circle cx="174.5" cy="76.0" r="3.5"/><circle cx="188.9" cy="70.2" r="3.5"/><circle cx="202.2" cy="66.5" r="3.5"/><circle cx="238.0" cy="55.0" r="3.5"/><circle cx="271.3" cy="50.8" r="3.5"/><circle cx="332.1" cy="44.9" r="3.5"/><circle cx="384.8" cy="41.1" r="3.5"/></g>
<g clip-path="url(#c)" fill="#ff8000"><circle cx="76.9" cy="225.2" r="3.5"/><circle cx="82.0" cy="217.2" r="3.5"/><circle cx="93.4" cy="216.5" r="3.5"/><circle cx="106.6" cy="204.8" r="3.5"/><circle cx="111.8" cy="190.6" r="3.5"/><circle cx="117.7" cy="176.5" r="3.5"/><circle cx="126.0" cy="144.9" r="3.5"/><circle cx="131.9" cy="116.7" r="3.5"/><circle cx="134.8" cy="106.9" r="3.5"/><circle cx="140.7" cy="96.7" r="3.5"/><circle cx="153.0" cy="77.7" r="3.5"/><circle cx="165.1" cy="68.0" r="3.5"/><circle cx="183.2" cy="60.1" r="3.5"/><circle cx="201.5" cy="56.5" r="3.5"/><circle cx="237.7" cy="48.6" r="3.5"/><circle cx="275.3" cy="44.4" r="3.5"/><circle cx="321.2" cy="41.1" r="3.5"/><circle cx="363.3" cy="37.6" r="3.5"/></g>
<g stroke="#161616" stroke-width="0.62" fill="none">
<path d="M41 0.35 H416.65 V233 H41 Z"/>
<path d="M41.00 233 v-4.7 M41.00 0.35 v4.7 M58.07 233 v-2.8 M58.07 0.35 v2.8 M75.15 233 v-2.8 M75.15 0.35 v2.8 M92.23 233 v-2.8 M92.23 0.35 v2.8 M109.30 233 v-2.8 M109.30 0.35 v2.8 M126.38 233 v-4.7 M126.38 0.35 v4.7 M143.45 233 v-2.8 M143.45 0.35 v2.8 M160.53 233 v-2.8 M160.53 0.35 v2.8 M177.60 233 v-2.8 M177.60 0.35 v2.8 M194.67 233 v-2.8 M194.67 0.35 v2.8 M211.75 233 v-4.7 M211.75 0.35 v4.7 M228.83 233 v-2.8 M228.83 0.35 v2.8 M245.90 233 v-2.8 M245.90 0.35 v2.8 M262.98 233 v-2.8 M262.98 0.35 v2.8 M280.05 233 v-2.8 M280.05 0.35 v2.8 M297.12 233 v-4.7 M297.12 0.35 v4.7 M314.20 233 v-2.8 M314.20 0.35 v2.8 M331.28 233 v-2.8 M331.28 0.35 v2.8 M348.35 233 v-2.8 M348.35 0.35 v2.8 M365.43 233 v-2.8 M365.43 0.35 v2.8 M382.50 233 v-4.7 M382.50 0.35 v4.7 M399.57 233 v-2.8 M399.57 0.35 v2.8 M416.65 233 v-2.8 M416.65 0.35 v2.8 M41 233.00 h4.7 M416.65 233.00 h-4.7 M41 222.43 h2.8 M416.65 222.43 h-2.8 M41 211.85 h2.8 M416.65 211.85 h-2.8 M41 201.28 h2.8 M416.65 201.28 h-2.8 M41 190.70 h2.8 M416.65 190.70 h-2.8 M41 180.12 h4.7 M416.65 180.12 h-4.7 M41 169.55 h2.8 M416.65 169.55 h-2.8 M41 158.98 h2.8 M416.65 158.98 h-2.8 M41 148.40 h2.8 M416.65 148.40 h-2.8 M41 137.82 h2.8 M416.65 137.82 h-2.8 M41 127.25 h4.7 M416.65 127.25 h-4.7 M41 116.68 h2.8 M416.65 116.68 h-2.8 M41 106.10 h2.8 M416.65 106.10 h-2.8 M41 95.53 h2.8 M416.65 95.53 h-2.8 M41 84.95 h2.8 M416.65 84.95 h-2.8 M41 74.38 h4.7 M416.65 74.38 h-4.7 M41 63.80 h2.8 M416.65 63.80 h-2.8 M41 53.23 h2.8 M416.65 53.23 h-2.8 M41 42.65 h2.8 M416.65 42.65 h-2.8 M41 32.08 h2.8 M416.65 32.08 h-2.8 M41 21.50 h4.7 M416.65 21.50 h-4.7 M41 10.93 h2.8 M416.65 10.93 h-2.8 M41 0.35 h2.8 M416.65 0.35 h-2.8"/>
</g>
<rect x="398.3" y="11.7" width="18.7" height="3" fill="#000"/>
<g font-family="'Liberation Serif', serif" font-size="13.5px" fill="#000" stroke="#000" stroke-width="0.18" style="text-rendering:geometricPrecision">
<text transform="translate(36.9,237.3) scale(0.9,0.99)" text-anchor="end">0</text>
<text transform="translate(36.9,184.4) scale(0.9,0.99)" text-anchor="end">5</text>
<text transform="translate(36.9,131.6) scale(0.9,0.99)" text-anchor="end">10</text>
<text transform="translate(36.9,78.7) scale(0.9,0.99)" text-anchor="end">15</text>
<text transform="translate(36.9,25.8) scale(0.9,0.99)" text-anchor="end">20</text>
<text transform="translate(41.5,248.9) scale(0.9,0.99)" text-anchor="middle">0.5</text>
<text transform="translate(126.9,248.9) scale(0.9,0.99)" text-anchor="middle">1.0</text>
<text transform="translate(212.2,248.9) scale(0.9,0.99)" text-anchor="middle">1.5</text>
<text transform="translate(297.6,248.9) scale(0.9,0.99)" text-anchor="middle">2.0</text>
<text transform="translate(383.0,248.9) scale(0.9,0.99)" text-anchor="middle">2.5</text>
<text x="215.8" y="268" font-size="13px"><tspan font-weight="bold">T</tspan>/<tspan font-style="italic">T</tspan><tspan font-style="italic" font-size="10px" dy="2.5">χ</tspan></text>
<text transform="translate(13.7,128.4) rotate(-90)" font-size="13.5px"><tspan font-size="12.5px">s</tspan><tspan font-style="italic" font-size="14.5px">/</tspan><tspan font-style="italic" dx="-0.4">T</tspan><tspan font-size="9.5px" dy="-5.6" dx="-0.3">3</tspan></text>
</g>
</svg></body></html>
